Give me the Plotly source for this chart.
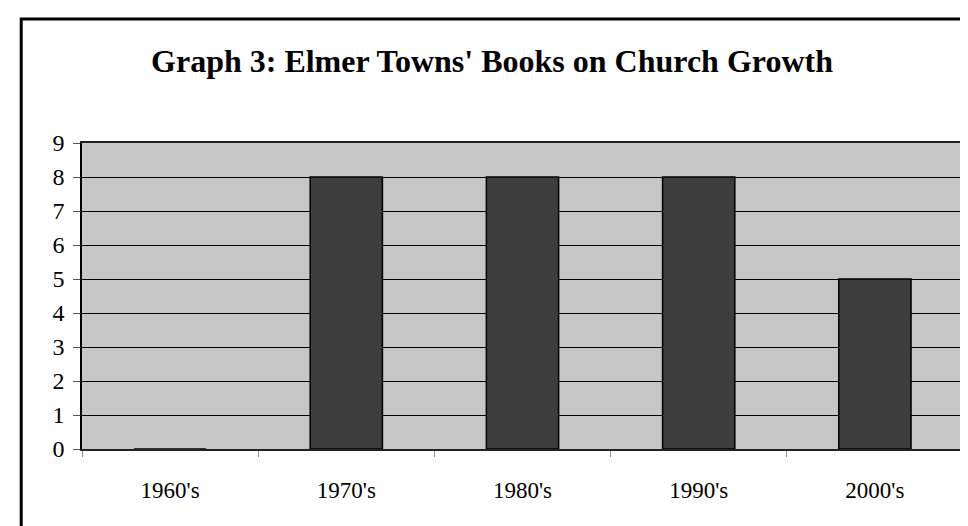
import plotly.graph_objects as go

decades = ["1960's", "1970's", "1980's", "1990's", "2000's"]
books = [0, 8, 8, 8, 5]
y_ticks = list(range(0, 10))

SERIF = "Liberation Serif, Times New Roman, serif"

fig = go.Figure()

fig.add_trace(go.Bar(
    x=decades,
    y=books,
    width=0.41,
    marker_color='#3d3d3d',
    marker_line_color='black',
    marker_line_width=1.5,
    showlegend=False
))

# outer frame around the whole chart (runs off the right edge like the scan)
fig.add_shape(
    type="rect", xref="paper", yref="paper",
    x0=-0.069, x1=1.02, y0=-0.268, y1=1.405,
    line=dict(color="black", width=3),
    fillcolor="rgba(0,0,0,0)",
    layer="below"
)

fig.update_layout(
    width=968,
    height=526,
    margin=dict(l=74, r=11, t=135, b=85),
    paper_bgcolor='white',
    plot_bgcolor='#c6c6c6',
    title=dict(
        text="<b>Graph 3: Elmer Towns' Books on Church Growth</b>",
        font=dict(family=SERIF, size=32, color='black'),
        x=0.5, xanchor='center',
        y=1 - 53 / 526, yanchor='middle', yref='container'
    ),
    xaxis=dict(
        type='category',
        tickson='boundaries',
        ticks='outside',
        ticklen=6,
        tickcolor='#888888',
        showgrid=False,
        showline=True,
        linecolor='#222222',
        linewidth=1.5,
        mirror=True,
        ticklabelstandoff=20,
        tickfont=dict(family=SERIF, size=23, color='black'),
    ),
    yaxis=dict(
        range=[0, 9],
        tickvals=y_ticks,
        ticks='outside',
        ticklen=7,
        tickcolor='#555555',
        showgrid=True,
        gridcolor='black',
        gridwidth=1,
        zeroline=False,
        showline=True,
        linecolor='black',
        linewidth=1.5,
        mirror=True,
        ticklabelstandoff=4,
        tickfont=dict(family=SERIF, size=24, color='black'),
    ),
)

fig.write_html("out.html")
